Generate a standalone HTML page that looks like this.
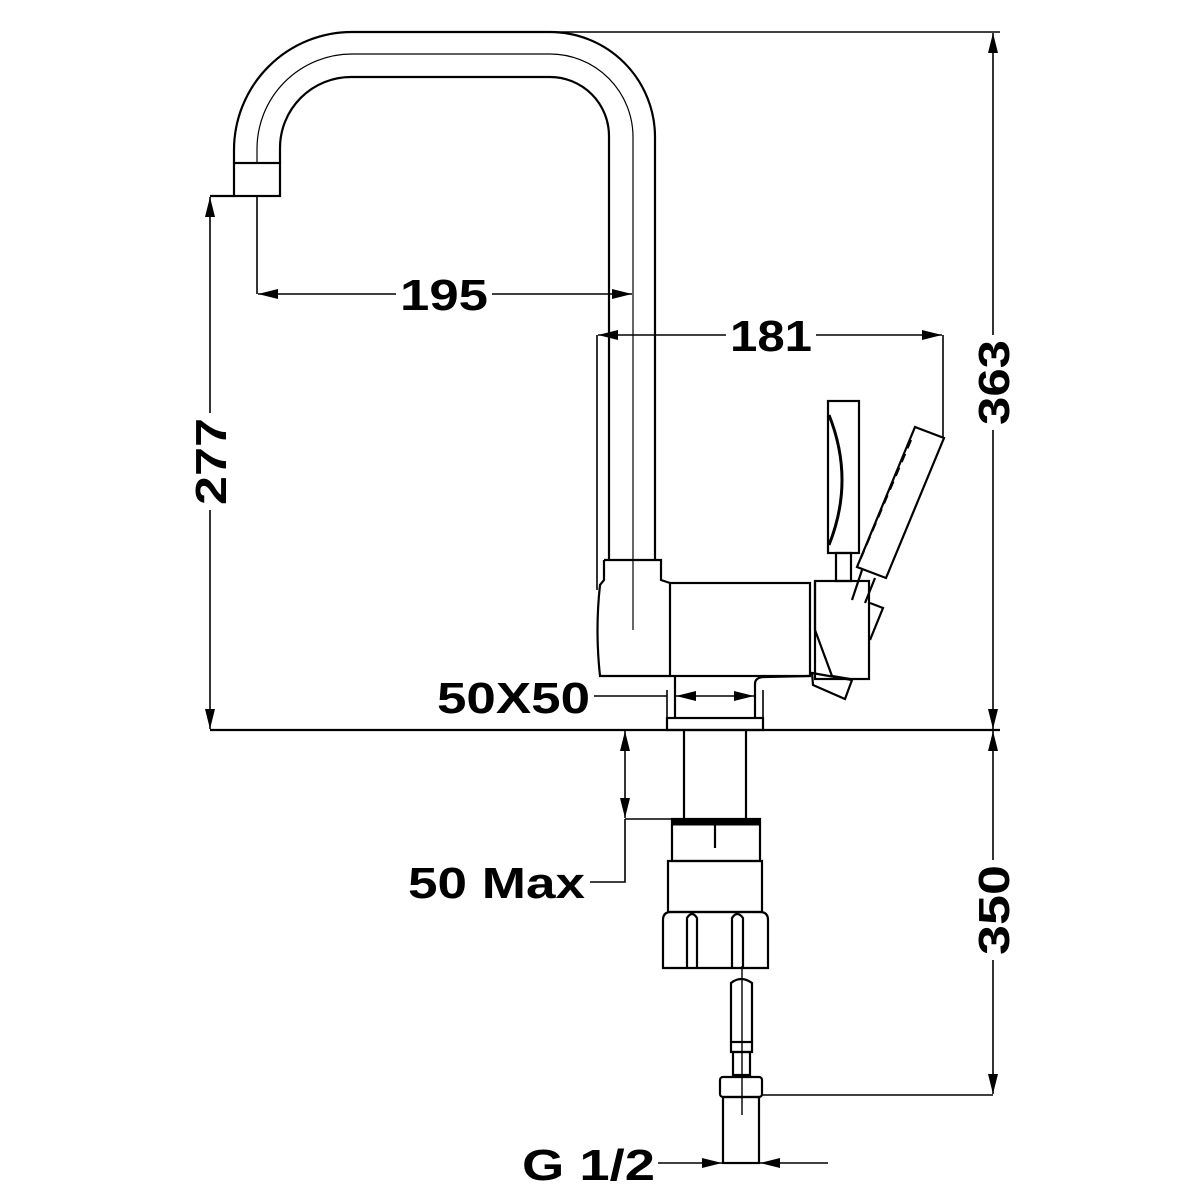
<!DOCTYPE html>
<html><head><meta charset="utf-8"><style>html,body{margin:0;padding:0;background:#fff}svg{display:block}</style></head>
<body>
<svg width="1200" height="1200" viewBox="0 0 1200 1200" xmlns="http://www.w3.org/2000/svg">
<defs>
<marker id="a" viewBox="0 0 20 10" refX="20" refY="5" markerWidth="20" markerHeight="10" markerUnits="userSpaceOnUse" orient="auto-start-reverse"><path d="M0,0 L20,5 L0,10 Z" fill="#000"/></marker>
</defs>
<g fill="none" stroke="#000" stroke-width="2.2">
<path d="M234,163 L234,150 A118,118 0 0 1 352,32 L550,32 A105,105 0 0 1 655,137 L655,560"/>
<path d="M280,163 L280,148 A71,71 0 0 1 351,77 L550,77 A59,59 0 0 1 609,136 L609,560"/>
<path d="M257,163 L257,149 A95,95 0 0 1 352,54 L550,54 A83,83 0 0 1 633,137 L633,630" stroke-width="1.2"/>
<rect x="234" y="163" width="46" height="33"/>
<line x1="210" y1="196" x2="234" y2="196"/>
<line x1="550" y1="32" x2="1000" y2="32" stroke-width="1.6"/>
<path d="M604,560 L661,560 L661,580 L670,583"/>
<path d="M604,560 L604,580 L600,585 Q595,630 600,676 L670,676"/>
<rect x="670" y="583" width="140" height="93"/>
<path d="M675,676 L675,718 M755,718 L755,684 Q755,677 765,677 L810,676"/>
<rect x="667" y="718" width="96" height="12"/>
<line x1="667" y1="690" x2="667" y2="718" stroke-width="1.6"/>
<line x1="763" y1="690" x2="763" y2="718" stroke-width="1.6"/>
<rect x="815" y="581" width="54" height="98"/>
<path d="M815,581 L815,630 L832,676 L850,679"/>
<path d="M812,673 L852,680 L845,699 L813,685 Z"/>
<rect x="828" y="401" width="31" height="152"/>
<path d="M829,415 Q855,480 829,545" stroke-width="3"/>
<rect x="836" y="553" width="15" height="28"/>
<path d="M915,427 L944,438 L886,578 L857,567 Z"/>
<path d="M911,440 L860,560" stroke-dasharray="9,6"/>
<path d="M862,570 L852,600 M875,578 L865,603"/>
<path d="M870,603 L883,608 L870,640"/>
<line x1="684" y1="730" x2="684" y2="819"/>
<line x1="746" y1="730" x2="746" y2="819"/>
<rect x="672" y="819" width="88" height="42"/>
<rect x="672" y="819" width="88" height="6" fill="#000" stroke-width="1"/>
<line x1="715" y1="825" x2="715" y2="848"/>
<rect x="668" y="861" width="94" height="51"/>
<path d="M663,968 L663,920 Q663,912 671,912 L760,912 Q768,912 768,920 L768,968 Z"/>
<path d="M687,968 L687,918 Q692,910 697,918 L697,968 M732,968 L732,918 Q737,910 743,918 L743,968"/>
<path d="M731,1042 L731,983 Q741,975 752,983 L752,1042"/>
<rect x="731" y="1042" width="21" height="10"/>
<rect x="733" y="1052" width="17" height="23"/>
<rect x="720" y="1077" width="42" height="20" rx="3"/>
<rect x="723" y="1097" width="36" height="66"/>
<line x1="742" y1="966" x2="742" y2="1115" stroke-width="1.4"/>
<line x1="762" y1="1095" x2="993" y2="1095" stroke-width="1.6"/>
<line x1="210" y1="730" x2="1000" y2="730"/>
<line x1="257" y1="196" x2="257" y2="294" stroke-width="1.6"/>
<line x1="258" y1="294" x2="396" y2="294" marker-start="url(#a)" stroke-width="1.6"/>
<line x1="492" y1="294" x2="632" y2="294" marker-end="url(#a)" stroke-width="1.6"/>
<line x1="597" y1="335" x2="597" y2="590" stroke-width="1.6"/>
<line x1="598" y1="335" x2="726" y2="335" marker-start="url(#a)" stroke-width="1.6"/>
<line x1="816" y1="335" x2="942" y2="335" marker-end="url(#a)" stroke-width="1.6"/>
<line x1="943" y1="335" x2="943" y2="438" stroke-width="1.6"/>
<line x1="210" y1="197" x2="210" y2="413" marker-start="url(#a)" stroke-width="1.6"/>
<line x1="210" y1="510" x2="210" y2="729" marker-end="url(#a)" stroke-width="1.6"/>
<line x1="993" y1="33" x2="993" y2="335" marker-start="url(#a)" stroke-width="1.6"/>
<line x1="993" y1="430" x2="993" y2="729" marker-end="url(#a)" stroke-width="1.6"/>
<line x1="993" y1="731" x2="993" y2="860" marker-start="url(#a)" stroke-width="1.6"/>
<line x1="993" y1="960" x2="993" y2="1094" marker-end="url(#a)" stroke-width="1.6"/>
<line x1="594" y1="696" x2="667" y2="696" stroke-width="1.6"/>
<line x1="676" y1="696" x2="754" y2="696" marker-start="url(#a)" marker-end="url(#a)" stroke-width="1.6"/>
<line x1="625" y1="731" x2="625" y2="818" marker-start="url(#a)" marker-end="url(#a)" stroke-width="1.6"/>
<path d="M625,819 L684,819 M625,819 L625,882 L590,882" stroke-width="1.6"/>
<line x1="658" y1="1163" x2="722" y2="1163" marker-end="url(#a)" stroke-width="1.6"/>
<line x1="828" y1="1163" x2="760" y2="1163" marker-end="url(#a)" stroke-width="1.6"/>
</g>
<g font-family="Liberation Sans, Arial, sans-serif" font-weight="bold" font-size="44" fill="#000">
<text x="400" y="310" textLength="88" lengthAdjust="spacingAndGlyphs">195</text>
<text x="730" y="351" textLength="82" lengthAdjust="spacingAndGlyphs">181</text>
<text x="437" y="713" textLength="153" lengthAdjust="spacingAndGlyphs">50X50</text>
<text x="408" y="898" textLength="177" lengthAdjust="spacingAndGlyphs">50 Max</text>
<text x="522" y="1180" textLength="133" lengthAdjust="spacingAndGlyphs">G 1/2</text>
<text transform="translate(226,505) rotate(-90)" textLength="87" lengthAdjust="spacingAndGlyphs">277</text>
<text transform="translate(1009,425) rotate(-90)" textLength="85" lengthAdjust="spacingAndGlyphs">363</text>
<text transform="translate(1009,955) rotate(-90)" textLength="90" lengthAdjust="spacingAndGlyphs">350</text>
</g>
</svg>
</body></html>
